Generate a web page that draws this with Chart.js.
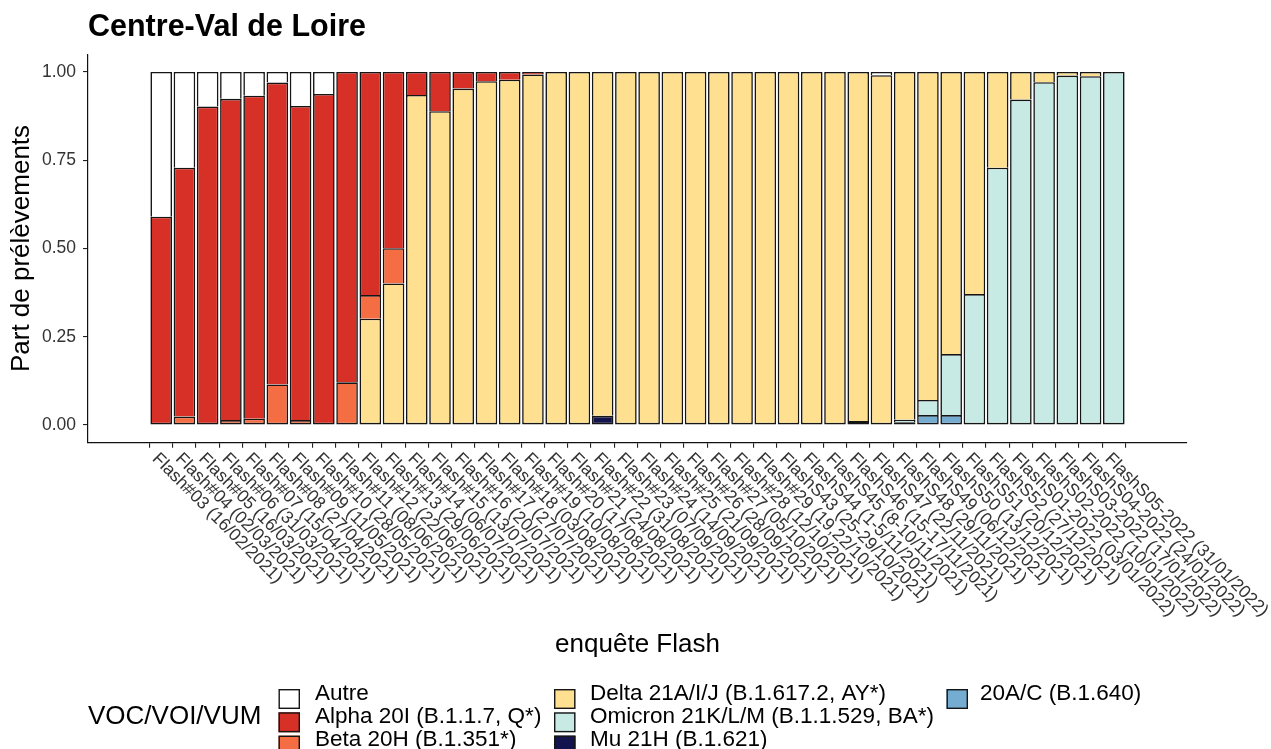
<!DOCTYPE html>
<html><head><meta charset="utf-8">
<script src="https://cdn.jsdelivr.net/npm/chart.js@4.4.1/dist/chart.umd.min.js"></script>
<style>html,body{margin:0;padding:0;background:#fff}#wrap{width:1271px;height:749px;position:relative}</style>
</head><body><div id="wrap"><canvas id="c"></canvas></div>
<script>
// ---------- DATA ----------
const labels = [
 'Flash#03 (16/02/2021)','Flash#04 (02/03/2021)','Flash#05 (16/03/2021)','Flash#06 (31/03/2021)',
 'Flash#07 (15/04/2021)','Flash#08 (27/04/2021)','Flash#09 (11/05/2021)','Flash#10 (28/05/2021)',
 'Flash#11 (08/06/2021)','Flash#12 (22/06/2021)','Flash#13 (29/06/2021)','Flash#14 (06/07/2021)',
 'Flash#15 (13/07/2021)','Flash#16 (20/07/2021)','Flash#17 (27/07/2021)','Flash#18 (03/08/2021)',
 'Flash#19 (10/08/2021)','Flash#20 (17/08/2021)','Flash#21 (24/08/2021)','Flash#22 (31/08/2021)',
 'Flash#23 (07/09/2021)','Flash#24 (14/09/2021)','Flash#25 (21/09/2021)','Flash#26 (28/09/2021)',
 'Flash#27 (05/10/2021)','Flash#28 (12/10/2021)','Flash#29 (19,22/10/2021)','FlashS43 (25-29/10/2021)',
 'FlashS44 (1-5/11/2021)','FlashS45 (8-10/11/2021)','FlashS46 (15-17/11/2021)','FlashS47 (22/11/2021)',
 'FlashS48 (29/11/2021)','FlashS49 (06/12/2021)','FlashS50 (13/12/2021)','FlashS51 (20/12/2021)',
 'FlashS52 (27/12/2021)','FlashS01-2022 (03/01/2022)','FlashS02-2022 (10/01/2022)','FlashS03-2022 (17/01/2022)',
 'FlashS04-2022 (24/01/2022)','FlashS05-2022 (31/01/2022)'
];
const autre   = [0.410,0.271,0.098,0.076,0.067,0.030,0.096,0.062,0,0,0,0,0,0,0,0,0,0,0,0,0,0,0,0,0,0,0,0,0,0,0,0.009,0,0,0,0,0,0,0,0,0,0];
const alpha   = [0.590,0.705,0.902,0.910,0.915,0.855,0.890,0.938,0.879,0.632,0.499,0.065,0.111,0.047,0.026,0.022,0.007,0,0,0,0,0,0,0,0,0,0,0,0,0,0,0,0,0,0,0,0,0,0,0,0,0];
const beta    = [0,0.024,0,0.014,0.018,0.115,0.014,0,0.121,0.067,0.100,0,0,0,0,0,0,0,0,0,0,0,0,0,0,0,0,0,0,0,0,0,0,0,0,0,0,0,0,0,0,0];
const delta   = [0,0,0,0,0,0,0,0,0,0.301,0.401,0.935,0.889,0.953,0.974,0.978,0.993,1,1,0.974,1,1,1,1,1,1,1,1,1,1,0.989,0.991,0.985,0.929,0.799,0.629,0.271,0.078,0.029,0.010,0.012,0];
const omicron = [0,0,0,0,0,0,0,0,0,0,0,0,0,0,0,0,0,0,0,0,0,0,0,0,0,0,0,0,0,0,0,0,0.007,0.043,0.173,0.371,0.729,0.922,0.971,0.990,0.988,1];
const mu      = [0,0,0,0,0,0,0,0,0,0,0,0,0,0,0,0,0,0,0,0.026,0,0,0,0,0,0,0,0,0,0,0,0,0,0,0,0,0,0,0,0,0,0];
const b1640   = [0,0,0,0,0,0,0,0,0,0,0,0,0,0,0,0,0,0,0,0,0,0,0,0,0,0,0,0,0,0,0.011,0,0.008,0.028,0.028,0,0,0,0,0,0,0];
const yTicks = [0, 0.25, 0.5, 0.75, 1];

const seriesNames  = ['Autre','Alpha 20I (B.1.1.7, Q*)','Beta 20H (B.1.351*)','Delta 21A/I/J (B.1.617.2, AY*)','Omicron 21K/L/M (B.1.1.529, BA*)','Mu 21H (B.1.621)','20A/C (B.1.640)'];
const seriesColors = ['#ffffff','#d73027','#f46d43','#fee090','#c7eae5','#13134d','#74add1'];
const seriesValues = [autre, alpha, beta, delta, omicron, mu, b1640];
// stacking order bottom -> top
const stackOrder = [6,5,4,3,2,1,0];

const FONT = '"Liberation Sans", Arial, Helvetica, sans-serif';
Chart.defaults.font.family = FONT;

const datasets = stackOrder.map((s, k) => ({
  label: seriesNames[s],
  data: seriesValues[s].map((v, i) => ({x: i, y: v > 0 ? v : null})),
  backgroundColor: seriesColors[s],
  borderColor: '#151515',
  borderWidth: 1.6,
  inflateAmount: 0,
  borderSkipped: (ctx) => {
    const i = ctx.dataIndex;
    for (let j = 0; j < k; j++) { if (seriesValues[stackOrder[j]][i] > 0) return 'bottom'; }
    return false;
  },
  barPercentage: 0.93,
  categoryPercentage: 1
}));

const overlay = {
  id: 'overlay',
  afterDraw(chart) {
    const ctx = chart.ctx;
    const xs = chart.scales.x;
    ctx.save();
    // title
    ctx.fillStyle = '#000';
    ctx.font = 'bold 30.5px ' + FONT;
    ctx.textAlign = 'left';
    ctx.textBaseline = 'alphabetic';
    ctx.fillText('Centre-Val de Loire', 88, 36);
    // x tick labels rotated
    ctx.fillStyle = '#333';
    ctx.font = '17.5px ' + FONT;
    labels.forEach((lab, i) => {
      const px = xs.getPixelForValue(i);
      ctx.save();
      ctx.translate(px, 450);
      ctx.rotate(Math.PI / 4);
      ctx.textAlign = 'left';
      ctx.textBaseline = 'top';
      ctx.fillText(lab, 0, 0);
      ctx.restore();
    });
    // legend
    ctx.fillStyle = '#000';
    ctx.font = '26px ' + FONT;
    ctx.textBaseline = 'alphabetic';
    ctx.fillText('VOC/VOI/VUM', 88, 724);
    const colKeyX = [278.5, 554, 946.5];
    const colTextX = [315, 590, 980];
    const rowTop = [689, 712.3, 735.6];
    ctx.font = '22.5px ' + FONT;
    seriesNames.forEach((name, s) => {
      const col = Math.floor(s / 3), row = s % 3;
      const kx = colKeyX[col], ky = rowTop[row];
      ctx.fillStyle = seriesColors[s];
      ctx.fillRect(kx, ky, 21.5, 20);
      ctx.strokeStyle = '#151515';
      ctx.lineWidth = 1.4;
      ctx.strokeRect(kx + 0.7, ky + 0.7, 20.1, 18.6);
      ctx.fillStyle = '#000';
      ctx.fillText(name, colTextX[col], ky + 10.5);
    });
    ctx.restore();
  }
};

new Chart(document.getElementById('c'), {
  type: 'bar',
  data: { datasets },
  plugins: [overlay],
  options: {
    responsive: true,
    maintainAspectRatio: false,
    animation: false,
    layout: { padding: { top: 54.35, right: 84, bottom: 0, left: 0 } },
    plugins: { legend: { display: false }, title: { display: false }, tooltip: { enabled: false } },
    scales: {
      x: {
        type: 'linear', stacked: true, min: -3.15, max: 44.15, offset: false,
        afterBuildTicks: s => { s.ticks = labels.map((_, i) => ({ value: i })); },
        afterFit: s => { s.height = 749 - 442.65; },
        grid: { display: true, drawOnChartArea: false, drawTicks: true, tickLength: 5, color: '#222', lineWidth: 1.1 },
        border: { display: true, color: '#111', width: 1.2 },
        ticks: { display: false },
        title: { display: true, text: 'enquête Flash', color: '#000', font: { size: 26, family: FONT }, padding: { top: 0, bottom: 88.4 } }
      },
      y: {
        stacked: true, min: -0.05, max: 1.05,
        afterBuildTicks: s => { s.ticks = yTicks.map(v => ({ value: v })); },
        afterFit: s => { s.width = 88; },
        grid: { display: true, drawOnChartArea: false, drawTicks: true, tickLength: 5, color: '#222', lineWidth: 1.1 },
        border: { display: true, color: '#111', width: 1.2 },
        ticks: { callback: v => Number(v).toFixed(2), color: '#333', font: { size: 17.5, family: FONT }, padding: 7 },
        title: { display: true, text: 'Part de prélèvements', color: '#000', font: { size: 26, family: FONT }, padding: { top: 6.4, bottom: 0 } }
      }
    }
  }
});
</script>
</body></html>
